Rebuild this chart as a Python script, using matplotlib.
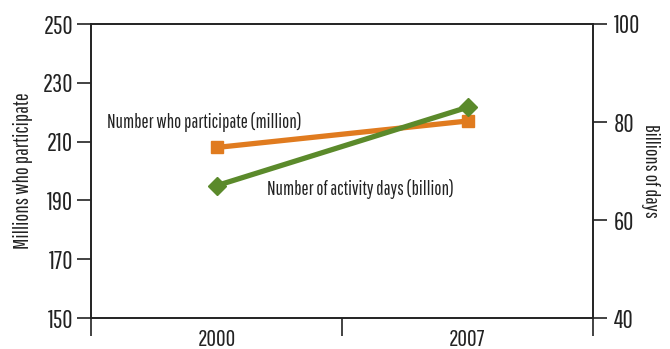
import matplotlib
matplotlib.use("Agg")
import matplotlib.pyplot as plt

years = ["2000", "2007"]
participants = [208, 217]        # millions (left axis)
activity_days = [67, 83]         # billions (right axis)
left_ticks = [150, 170, 190, 210, 230, 250]
right_ticks = [40, 60, 80, 100]

plt.rcParams['font.family'] = ['Pathway Gothic One', 'Roboto Condensed', 'DejaVu Sans']

orange = "#E07B1F"
green = "#5B8A2B"
dark = "#222222"

fig = plt.figure(figsize=(6.7, 3.49), dpi=100)
ax = fig.add_axes([91/670, 1-318/349, (593-91)/670, (318-24)/349])
ax2 = ax.twinx()

x = list(range(len(years)))
ax.plot(x, participants, color=orange, lw=3.8, marker="s", ms=9, zorder=3)
ax2.plot(x, activity_days, color=green, lw=3.8, marker="D", ms=9, zorder=3)

ax.set_xlim(-0.5, 1.5)
ax.set_ylim(150, 250)
ax2.set_ylim(40, 100)
ax.set_yticks(left_ticks)
ax2.set_yticks(right_ticks)

ax.set_xticks([-0.5, 0.5, 1.5])
ax.set_xticklabels([])
ax.set_xticks(x, minor=True)
ax.set_xticklabels(years, minor=True)
ax.tick_params(axis="x", which="major", length=13, width=1.2, direction="out", color=dark)
ax.tick_params(axis="x", which="minor", length=0, pad=8, labelsize=17, labelcolor=dark)
ax.tick_params(axis="y", length=10, width=1.2, pad=3, labelsize=18, color=dark, labelcolor=dark)
ax2.tick_params(axis="y", length=10, width=1.2, pad=5, labelsize=18, color=dark, labelcolor=dark)

for a in (ax, ax2):
    for s in a.spines.values():
        s.set_linewidth(1.2)
        s.set_color(dark)

ax.set_ylabel("Millions who participate", fontsize=15, color=dark, labelpad=7)
ax2.set_ylabel("Billions of days", fontsize=14.5, color=dark, rotation=270, labelpad=14)

ax.text(0.032, 0.667, "Number who participate (million)", transform=ax.transAxes,
        fontsize=13.6, color=dark, va="center", ha="left")
ax.text(0.35, 0.44, "Number of activity days (billion)", transform=ax.transAxes,
        fontsize=13.6, color=dark, va="center", ha="left")

fig.savefig("out.png", dpi=100)
